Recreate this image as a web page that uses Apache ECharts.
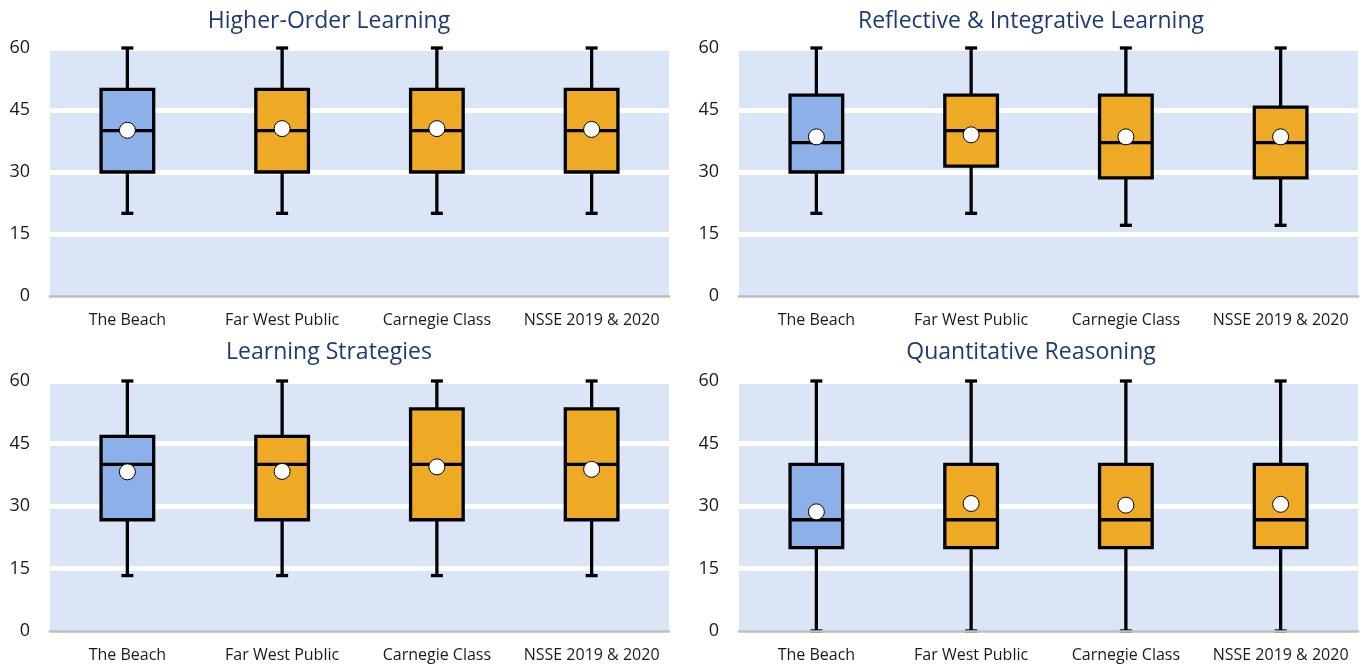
<!DOCTYPE html>
<html>
<head>
<meta charset="utf-8">
<title>Engagement Indicators</title>
<script src="https://cdn.jsdelivr.net/npm/echarts@6/dist/echarts.min.js"></script>
<style>
  html, body { margin: 0; padding: 0; background: #ffffff; }
  #chart { width: 1361px; height: 665px; }
</style>
</head>
<body>
<div id="chart"></div>
<script>
// Comparison groups shown on every panel
const categories = ['The Beach', 'Far West Public', 'Carnegie Class', 'NSSE 2019 & 2020'];
// Score scale tick values
const yTicks = [0, 15, 30, 45, 60];

const panelTitles = [
  'Higher-Order Learning',
  'Reflective & Integrative Learning',
  'Learning Strategies',
  'Quantitative Reasoning'
];

// Five-number summaries per group: [min, Q1, median, Q3, max]
const higherOrderBoxes = [
  [20, 30, 40, 50, 60],
  [20, 30, 40, 50, 60],
  [20, 30, 40, 50, 60],
  [20, 30, 40, 50, 60]
];
const higherOrderMeans = [40.1, 40.5, 40.5, 40.3];

const reflectiveBoxes = [
  [20, 30, 37.1, 48.6, 60],
  [20, 31.4, 40, 48.6, 60],
  [17.1, 28.6, 37.1, 48.6, 60],
  [17.1, 28.6, 37.1, 45.7, 60]
];
const reflectiveMeans = [38.5, 39.0, 38.5, 38.5];

const strategiesBoxes = [
  [13.3, 26.7, 40, 46.7, 60],
  [13.3, 26.7, 40, 46.7, 60],
  [13.3, 26.7, 40, 53.3, 60],
  [13.3, 26.7, 40, 53.3, 60]
];
const strategiesMeans = [38.2, 38.3, 39.4, 38.8];

const quantitativeBoxes = [
  [0, 20, 26.7, 40, 60],
  [0, 20, 26.7, 40, 60],
  [0, 20, 26.7, 40, 60],
  [0, 20, 26.7, 40, 60]
];
const quantitativeMeans = [28.6, 30.6, 30.2, 30.4];

const panelBoxes = [higherOrderBoxes, reflectiveBoxes, strategiesBoxes, quantitativeBoxes];
const panelMeans = [higherOrderMeans, reflectiveMeans, strategiesMeans, quantitativeMeans];

// Panel geometry (plot rectangles and title anchors)
const gridRects = [
  { left: 50,  top: 48,  width: 619, height: 248 },
  { left: 739, top: 48,  width: 619, height: 248 },
  { left: 50,  top: 381, width: 619, height: 250 },
  { left: 739, top: 381, width: 619, height: 250 }
];
const titleAnchors = [[329, 20], [1031, 20], [329, 351], [1031, 351]];

const FONT = '"Open Sans", "Noto Sans", sans-serif';
const HOME_FILL = '#8DB0E8';
const PEER_FILL = '#EEAA24';
const PLOT_BG = '#DAE5F7';
const LINE_W = 3.3;

function renderBox(params, api) {
  const idx = api.value(0);
  const lo = api.coord([idx, api.value(1)]);
  const q1 = api.coord([idx, api.value(2)]);
  const md = api.coord([idx, api.value(3)]);
  const q3 = api.coord([idx, api.value(4)]);
  const hi = api.coord([idx, api.value(5)]);
  const x = md[0];
  const half = api.size([1, 0])[0] * 0.17;
  const cap = 6;
  const stroke = { stroke: '#000', lineWidth: LINE_W };
  return {
    type: 'group',
    children: [
      { type: 'line', shape: { x1: x, y1: hi[1], x2: x, y2: q3[1] }, style: stroke },
      { type: 'line', shape: { x1: x, y1: q1[1], x2: x, y2: lo[1] }, style: stroke },
      { type: 'line', shape: { x1: x - cap, y1: hi[1], x2: x + cap, y2: hi[1] }, style: stroke },
      { type: 'line', shape: { x1: x - cap, y1: lo[1], x2: x + cap, y2: lo[1] }, style: stroke },
      {
        type: 'rect',
        shape: { x: x - half, y: q3[1], width: half * 2, height: q1[1] - q3[1] },
        style: { fill: idx === 0 ? HOME_FILL : PEER_FILL, stroke: '#000', lineWidth: LINE_W, lineJoin: 'miter' }
      },
      { type: 'line', shape: { x1: x - half, y1: md[1], x2: x + half, y2: md[1] }, style: stroke }
    ]
  };
}

const grid = [], xAxis = [], yAxis = [], series = [], graphic = [];

gridRects.forEach((r, p) => {
  grid.push(Object.assign({ show: true, backgroundColor: PLOT_BG, borderWidth: 0 }, r));

  xAxis.push({
    type: 'category',
    gridIndex: p,
    data: categories,
    z: 3,
    axisLine: { show: true, lineStyle: { color: '#BFBFBF', width: 2.5 } },
    axisTick: { show: false },
    axisLabel: { margin: 16, fontSize: 16, color: '#1A1A1A', fontFamily: FONT, interval: 0 },
    splitLine: { show: false }
  });

  yAxis.push({
    type: 'value',
    gridIndex: p,
    min: yTicks[0],
    max: yTicks[yTicks.length - 1],
    interval: yTicks[1] - yTicks[0],
    axisLine: { show: false },
    axisTick: { show: false },
    axisLabel: { margin: 20, fontSize: 18, color: '#1A1A1A', fontFamily: FONT },
    splitLine: {
      show: true,
      lineStyle: { color: ['rgba(0,0,0,0)', '#FFFFFF', '#FFFFFF', '#FFFFFF', '#FFFFFF'], width: 5 }
    }
  });

  series.push({
    type: 'custom',
    xAxisIndex: p,
    yAxisIndex: p,
    renderItem: renderBox,
    encode: { x: 0, y: [1, 2, 3, 4, 5] },
    data: panelBoxes[p].map((b, i) => [i].concat(b)),
    z: 2
  });

  series.push({
    type: 'scatter',
    xAxisIndex: p,
    yAxisIndex: p,
    symbol: 'circle',
    symbolSize: 16,
    itemStyle: { color: '#FFFFFF', borderColor: '#000000', borderWidth: 1, opacity: 1 },
    data: panelMeans[p].map((m, i) => [i, m]),
    z: 5
  });

  graphic.push({
    type: 'text',
    x: titleAnchors[p][0],
    y: titleAnchors[p][1] + 1,
    style: {
      text: panelTitles[p],
      fill: '#1F3B70',
      font: '23px ' + FONT,
      textAlign: 'center',
      textVerticalAlign: 'middle'
    }
  });
});

const chart = echarts.init(document.getElementById('chart'), null, { renderer: 'canvas' });
chart.setOption({
  animation: false,
  backgroundColor: '#FFFFFF',
  grid, xAxis, yAxis, series, graphic
});
</script>
</body>
</html>
